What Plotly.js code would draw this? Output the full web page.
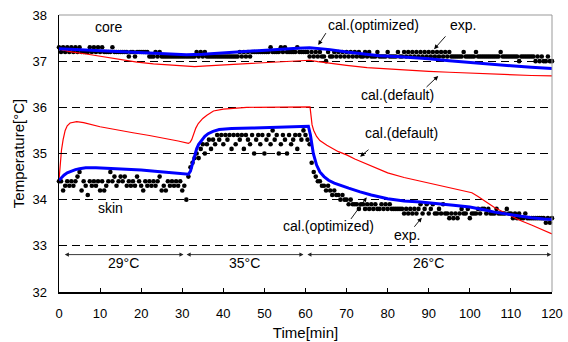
<!DOCTYPE html>
<html>
<head>
<meta charset="utf-8">
<script src="https://cdn.plot.ly/plotly-3.0.1.min.js"></script>
<style>
  html, body { margin: 0; padding: 0; background: #fff; }
  #chart { width: 568px; height: 342px; }
</style>
</head>
<body>
<div id="chart"></div>
<script>
// Measured temperatures, one reading every 0.5 min from 0 to 120 min
const sampleMin = 0.5;

const coreExp = [
  37.3,37.2,37.3,37.2,37.3,37.2,37.3,37.2,37.3,37.2,
  37.3,37.2,37.2,37.2,37.2,37.3,37.2,37.3,37.2,37.3,
  37.2,37.3,37.2,37.2,37.2,37.2,37.3,37.2,37.2,37.2,
  37.2,37.2,37.2,37.2,37.1,37.2,37.2,37.1,37.2,37.2,
  37.2,37.2,37.2,37.2,37.1,37.1,37.1,37.2,37.1,37.2,
  37.1,37.1,37.1,37.1,37.1,37.1,37.1,37.1,37.1,37.1,
  37.1,37.1,37.1,37.1,37.1,37.1,37.1,37.2,37.1,37.2,
  37.1,37.2,37.1,37.1,37.1,37.1,37.1,37.1,37.1,37.1,
  37.1,37.1,37.1,37.1,37.1,37.1,37.1,37.1,37.2,37.1,
  37.2,37.1,37.2,37.1,37.2,37.2,37.2,37.2,37.2,37.2,
  37.2,37.2,37.2,37.3,37.2,37.2,37.2,37.2,37.3,37.2,
  37.3,37.2,37.2,37.2,37.2,37.2,37.3,37.2,37.2,37.2,
  37.2,37.2,37.1,37.2,37.1,37.2,37.1,37.2,37.1,37.1,
  37.0,37.2,37.1,37.1,37.2,37.1,37.2,37.1,37.2,37.1,
  37.2,37.1,37.2,37.1,37.2,37.1,37.2,37.1,37.1,37.2,
  37.1,37.2,37.1,37.1,37.1,37.2,37.1,37.1,37.1,37.1,
  37.2,37.1,37.1,37.1,37.1,37.2,37.1,37.1,37.2,37.1,
  37.2,37.1,37.2,37.1,37.2,37.1,37.2,37.1,37.2,37.1,
  37.2,37.1,37.2,37.1,37.2,37.1,37.2,37.1,37.2,37.1,
  37.2,37.1,37.1,37.1,37.1,37.1,37.1,37.2,37.1,37.1,
  37.1,37.1,37.1,37.2,37.1,37.1,37.1,37.1,37.1,37.1,
  37.1,37.1,37.1,37.1,37.1,37.2,37.1,37.1,37.1,37.1,
  37.1,37.1,37.1,37.1,37.0,37.1,37.1,37.1,37.1,37.1,
  37.1,37.1,37.0,37.1,37.0,37.1,37.0,37.0,37.1,37.0,
  37.0
];

const skinExp = [
  34.4,34.4,34.2,34.3,34.4,34.3,34.4,34.3,34.4,34.5,
  34.6,34.2,34.4,34.3,34.1,34.4,34.3,34.4,34.3,34.4,
  34.2,34.4,34.2,34.3,34.4,34.6,34.4,34.5,34.3,34.4,
  34.5,34.4,34.5,34.3,34.4,34.3,34.4,34.3,34.5,34.4,
  34.3,34.2,34.4,34.3,34.4,34.3,34.4,34.3,34.4,34.5,
  34.2,34.3,34.2,34.4,34.3,34.4,34.3,34.4,34.3,34.4,
  34.2,34.3,34.0,34.5,34.7,34.8,34.9,35.0,34.9,35.1,
  35.2,35.0,35.2,35.3,35.1,35.3,35.2,35.4,35.3,35.4,
  35.2,35.4,35.3,35.4,35.1,35.4,35.2,35.4,35.3,35.4,
  35.1,35.4,35.3,35.2,35.4,35.0,35.3,35.4,35.2,35.4,
  35.0,35.3,35.4,35.2,35.5,35.3,35.4,35.0,35.2,35.4,
  35.3,35.0,35.4,35.2,35.3,35.4,35.1,35.4,35.3,35.5,
  35.4,35.3,35.2,34.8,34.6,34.5,34.4,34.4,34.3,34.3,
  34.2,34.3,34.2,34.1,34.2,34.1,34.1,34.0,34.1,34.0,
  34.0,33.9,34.0,33.9,33.9,33.9,33.8,33.9,33.9,33.8,
  33.9,33.8,33.9,33.8,33.9,33.8,33.8,33.9,33.8,33.9,
  33.8,33.9,33.8,33.8,33.8,33.8,33.8,33.8,33.7,33.8,
  33.7,33.8,33.7,33.8,33.7,33.8,33.9,33.7,33.8,33.9,
  33.7,33.8,33.9,33.7,33.7,33.8,33.7,33.9,33.7,33.7,
  33.6,33.7,33.6,33.7,33.6,33.7,33.8,33.7,33.7,33.8,
  33.6,33.7,33.7,33.7,33.8,33.7,33.8,33.8,33.7,33.8,
  33.7,33.7,33.7,33.8,33.7,33.7,33.7,33.7,33.8,33.7,
  33.7,33.6,33.7,33.6,33.7,33.6,33.6,33.7,33.6,33.6,
  33.6,33.6,33.6,33.6,33.6,33.6,33.6,33.5,33.6,33.5,
  33.6
];

// Model output: core temperature, optimized parameters
const coreOptT = [0, 5, 11, 16, 21, 27, 31, 35, 40, 45, 48, 53, 58, 61, 63, 66, 70, 74, 78, 82, 86, 90, 95, 100, 105, 110, 115, 120];
const coreOptV = [37.27, 37.25, 37.23, 37.2, 37.18, 37.15, 37.14, 37.15, 37.18, 37.21, 37.23, 37.26, 37.28, 37.29, 37.28, 37.25, 37.2, 37.16, 37.12, 37.1, 37.08, 37.05, 37.01, 36.97, 36.94, 36.9, 36.87, 36.84];

// Model output: core temperature, default parameters
const coreDefT = [0, 3, 7, 11, 15, 19, 23, 27, 31, 33, 36, 40, 44, 48, 52, 56, 60, 61, 63, 66, 70, 75, 80, 85, 90, 95, 100, 105, 110, 115, 120];
const coreDefV = [37.26, 37.2, 37.15, 37.09, 37.03, 36.98, 36.94, 36.91, 36.89, 36.88, 36.9, 36.92, 36.95, 36.97, 36.99, 37.0, 37.02, 37.02, 36.99, 36.95, 36.91, 36.86, 36.83, 36.8, 36.78, 36.76, 36.74, 36.72, 36.71, 36.69, 36.68];

// Model output: skin temperature, optimized parameters
const skinOptT = [0, 0.5, 1.2, 2, 3, 4, 5, 6.5, 9, 12, 16, 20, 24, 28, 31.5, 32, 32.5, 33, 33.5, 34, 34.7, 35.5, 36.3, 37.5, 39, 42, 47, 52, 57, 60.7,
                  61.2, 61.9, 62.7, 63.5, 64.5, 65.6, 67, 68.4, 70.5, 73.3, 76, 80, 84, 88, 92, 96, 100, 102, 104, 106, 108, 110, 112, 115, 118, 120];
const skinOptV = [34.42, 34.47, 34.53, 34.58, 34.62, 34.65, 34.67, 34.69, 34.69, 34.68, 34.66, 34.64, 34.61, 34.58, 34.55, 34.62, 34.8, 34.98, 35.1, 35.2, 35.29, 35.37, 35.43, 35.48, 35.52, 35.54, 35.55, 35.57, 35.58, 35.59,
                  35.4, 35.0, 34.75, 34.6, 34.5, 34.42, 34.36, 34.31, 34.25, 34.17, 34.1, 34.02, 33.97, 33.95, 33.92, 33.88, 33.84, 33.81, 33.77, 33.73, 33.7, 33.67, 33.64, 33.61, 33.58, 33.57];

// Model output: skin temperature, default parameters
const skinDefT = [0, 0.3, 0.6, 1, 1.5, 2, 2.7, 4.3, 6, 10, 14, 18, 22, 26, 29, 31.5, 31.9, 32.3, 32.7, 33.3, 33.9, 35, 36, 37.6, 40, 45.7, 61.1,
                  61.3, 61.6, 62, 62.7, 63.5, 65.2, 68, 70, 72, 76, 80, 84, 88, 92, 96, 99, 100.5, 102, 104, 106, 108, 110, 112, 115, 118, 120];
const skinDefV = [34.42, 34.85, 35.07, 35.3, 35.5, 35.6, 35.66, 35.69, 35.67, 35.58, 35.51, 35.45, 35.39, 35.33, 35.27, 35.22, 35.24, 35.3, 35.4, 35.55, 35.65, 35.76, 35.83, 35.92, 35.96, 36.0, 36.01,
                  35.8, 35.62, 35.5, 35.37, 35.28, 35.18, 35.04, 34.97, 34.88, 34.73, 34.58, 34.48, 34.4, 34.32, 34.24, 34.18, 34.15, 34.07, 33.95, 33.83, 33.74, 33.65, 33.56, 33.45, 33.34, 33.26];

// Axis ticks
const xTicks = [0, 10, 20, 30, 40, 50, 60, 70, 80, 90, 100, 110, 120];
const yTicks = [32, 33, 34, 35, 36, 37, 38];

// Ambient temperature periods [start, end, label]
const periods = [
  [1.05, 30.3, '29°C'],
  [30.7, 59.5, '35°C'],
  [60.1, 119.8, '26°C']
];

const expTime = coreExp.map((_, i) => i * sampleMin);

const FONT = '"Liberation Sans", Arial, sans-serif';

const dotStyle = { size: 4.6, color: '#000' };
const traces = [
  { x: expTime, y: coreExp, mode: 'markers', marker: dotStyle, cliponaxis: false },
  { x: expTime, y: skinExp, mode: 'markers', marker: dotStyle, cliponaxis: false },
  { x: coreDefT, y: coreDefV, mode: 'lines', line: { color: '#ff0000', width: 1.2 } },
  { x: skinDefT, y: skinDefV, mode: 'lines', line: { color: '#ff0000', width: 1.2 } },
  { x: coreOptT, y: coreOptV, mode: 'lines', line: { color: '#0000ff', width: 3 } },
  { x: skinOptT, y: skinOptV, mode: 'lines', line: { color: '#0000ff', width: 3 } }
];

function label(x, y, text) {
  return { x, y, xref: 'x', yref: 'y', text, showarrow: false,
           xanchor: 'center', yanchor: 'middle', font: { family: FONT, size: 14, color: '#000' } };
}
function pointer(tx, ty, hx, hy) {
  return { x: hx, y: hy, ax: tx, ay: ty, xref: 'x', yref: 'y', axref: 'x', ayref: 'y',
           text: '', showarrow: true, arrowhead: 2, arrowsize: 1, arrowwidth: 0.9, arrowcolor: '#000' };
}

const annotations = [
  label(12.05, 37.73, 'core'),
  label(76.6, 37.78, 'cal.(optimized)'),
  label(98.3, 37.78, 'exp.'),
  label(82.5, 36.26, 'cal.(default)'),
  label(83.4, 35.44, 'cal.(default)'),
  label(12.5, 33.81, 'skin'),
  label(65.5, 33.42, 'cal.(optimized)'),
  label(84.6, 33.23, 'exp.'),
  pointer(65.2, 37.64, 63.1, 37.35),
  pointer(94.4, 37.57, 91.3, 37.26),
  pointer(89.1, 36.41, 92.3, 36.68),
  pointer(75.7, 35.11, 73.3, 34.93),
  pointer(70.8, 33.55, 74.9, 34.05),
  pointer(86.2, 33.38, 88.3, 33.61)
];

periods.forEach(([a, b, txt]) => {
  annotations.push({ x: b, y: 32.81, ax: a, ay: 32.81, xref: 'x', yref: 'y', axref: 'x', ayref: 'y',
                     text: '', showarrow: true, arrowside: 'end+start', arrowhead: 2, arrowsize: 0.9,
                     arrowwidth: 0.9, arrowcolor: '#222' });
  annotations.push(label((a + b) / 2, 32.63, txt));
});

const layout = {
  width: 568, height: 342,
  margin: { l: 59, r: 16, t: 15, b: 50, pad: 0 },
  paper_bgcolor: '#fff', plot_bgcolor: '#fff',
  showlegend: false,
  font: { family: FONT, size: 13, color: '#000' },
  xaxis: {
    range: [0, 120], tickvals: xTicks, ticktext: xTicks.map(String),
    ticks: 'inside', ticklen: 4, tickwidth: 1, tickcolor: '#000',
    showline: true, linecolor: '#000', linewidth: 1.5,
    showgrid: false, zeroline: false, fixedrange: true,
    ticklabelstandoff: 9,
    tickfont: { family: FONT, size: 13, color: '#000' },
    title: { text: 'Time[min]', font: { family: FONT, size: 15, color: '#000' }, standoff: 7 }
  },
  yaxis: {
    range: [32, 38], tickvals: yTicks, ticktext: yTicks.map(String),
    ticks: 'inside', ticklen: 4, tickwidth: 1, tickcolor: '#000',
    showline: true, linecolor: '#000', linewidth: 1.5,
    showgrid: true, gridcolor: '#000', gridwidth: 1, griddash: '8px,5px',
    zeroline: false, fixedrange: true,
    ticklabelstandoff: 8,
    tickfont: { family: FONT, size: 13, color: '#000' },
    title: { text: 'Temperature[°C]', font: { family: FONT, size: 15, color: '#000' }, standoff: 4 }
  },
  shapes: [
    { type: 'line', xref: 'paper', yref: 'paper', x0: 0, x1: 1, y0: 1, y1: 1, line: { color: '#999', width: 1 }, layer: 'above' },
    { type: 'line', xref: 'paper', yref: 'paper', x0: 1, x1: 1, y0: 0, y1: 1, line: { color: '#999', width: 1 }, layer: 'above' }
  ],
  annotations
};

Plotly.newPlot('chart', traces, layout, { displayModeBar: false, staticPlot: true });
</script>
</body>
</html>
